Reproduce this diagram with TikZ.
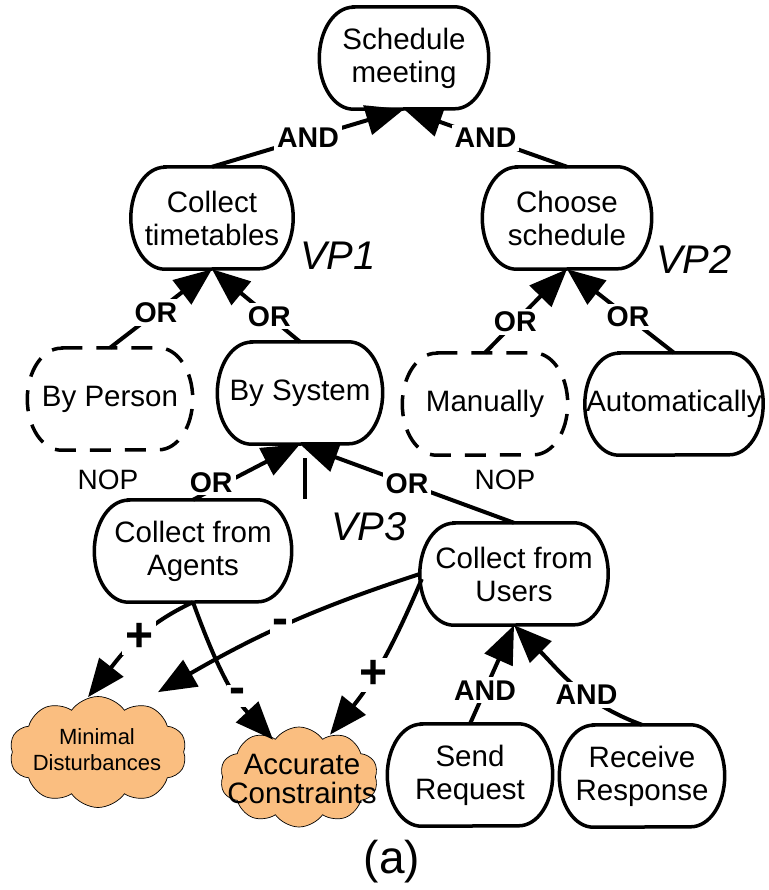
\documentclass[tikz,border=0pt]{standalone}
\usepackage{fontspec}
\setmainfont{Liberation Sans}
\usetikzlibrary{arrows.meta,shapes.symbols,calc}
\definecolor{softgoal}{RGB}{250,190,128}

% outline of a goal/task: flat top and bottom, elliptical ends
\newcommand{\goaloutline}[2][]{%
  \draw[goalline,#1] ($(#2.north west)+(34,0)$) -- ($(#2.north east)+(-34,0)$)
    arc[start angle=90, end angle=-90, x radius=34pt, y radius=51pt]
    -- ($(#2.south west)+(34,0)$)
    arc[start angle=270, end angle=90, x radius=34pt, y radius=51pt] -- cycle;}

\begin{document}
\begin{tikzpicture}[x=1pt,y=-1pt,
  goal/.style={rectangle, minimum width=165pt, minimum height=102pt,
    inner sep=0pt, align=center, font=\fontsize{29.5}{33}\selectfont},
  goalline/.style={line width=3.5pt},
  nopline/.style={dash pattern=on 21pt off 14pt},
  soft/.style={cloud, cloud puffs=10, cloud puff arc=110, cloud ignores aspect,
    draw, line width=0.7pt, fill=softgoal, inner sep=0pt},
  softtext/.style={align=center, inner sep=0pt},
  link/.style={line width=4pt, -{Triangle[length=38pt,width=30pt]}},
  dec/.style={font=\bfseries\fontsize{28.5}{28.5}\selectfont, fill=white, inner sep=3pt},
  contrib/.style={font=\bfseries\fontsize{48}{48}\selectfont, fill=white, inner sep=3pt},
  vp/.style={font=\itshape\fontsize{40}{40}\selectfont},
  note/.style={font=\fontsize{28}{28}\selectfont}
]
\useasboundingbox (0,0) rectangle (768,890);

% goals and tasks
\node[goal, minimum width=169pt] (sm) at (404,58) {Schedule\\meeting};
\node[goal, minimum width=162pt] (ct) at (212,218) {Collect\\timetables};
\node[goal, minimum width=169pt] (cs) at (567,218) {Choose\\schedule};
\node[goal] (bp) at (110,399) {By Person};
\node[goal] (bs) at (300,393) {By System};
\node[goal] (man) at (485,404) {Manually};
\node[goal, minimum width=178pt] (aut) at (674,404) {Automatically};
\node[goal, minimum width=197pt] (cfa) at (193,551) {Collect from\\Agents};
\node[goal, minimum width=188pt] (cfu) at (514,574) {Collect from\\Users};
\node[goal] (sr) at (470,775) {Send\\Request};
\node[goal] (rr) at (642,776) {Receive\\Response};

\goaloutline{sm}
\goaloutline{ct}
\goaloutline{cs}
\goaloutline[nopline]{bp}
\goaloutline{bs}
\goaloutline[nopline]{man}
\goaloutline{aut}
\goaloutline{cfa}
\goaloutline{cfu}
\goaloutline{sr}
\goaloutline{rr}

% softgoals
\node[soft, minimum width=177pt, minimum height=111pt] (md) at (98,752) {};
\node[softtext, font=\fontsize{22}{26}\selectfont] (mdtext) at (97,750) {Minimal\\Disturbances};
\node[soft, minimum width=158pt, minimum height=100pt] (ac) at (299,777) {};
\node[softtext, font=\fontsize{29.5}{29}\selectfont] (actext) at (302,779) {Accurate\\Constraints};

% variation points and notes
\node[vp] (vp1) at (338,256) {VP1};
\node[vp] (vp2) at (694,260) {VP2};
\node[vp] (vp3) at (369,527) {VP3};
\node[note] (nop1) at (108,480) {NOP};
\node[note] (nop2) at (505,480) {NOP};
\node[font=\fontsize{46}{46}\selectfont] (cap) at (392,862) {(a)};

% decompositions
\draw[link] (ct.north) -- node[dec]{AND} (sm.south);
\draw[link] (cs.north) -- node[dec]{AND} (sm.south);
\draw[link] (bp.north) -- node[dec, pos=0.45]{OR} (ct.south);
\draw[link] (bs.north) -- node[dec, pos=0.35]{OR} (ct.south);
\draw[link] (man.north) -- node[dec, pos=0.37]{OR} (cs.south);
\draw[link] (aut.north) -- node[dec, pos=0.43]{OR} (cs.south);
\draw[link] (cfa.north) -- node[dec, pos=0.17, yshift=8pt]{OR} (bs.south);
\draw[link] (cfu.north) -- node[dec, pos=0.5]{OR} (bs.south);
\draw[link] (sr.north) -- node[dec, pos=0.34]{AND} (cfu.south);
\draw[link] (rr.north) to[out=160,in=-45] node[dec, pos=0.38]{AND} (cfu.south);

% VP3 marker
\coordinate (vtop) at ($(bs.south)+(5,14)$);
\coordinate (vbot) at ($(bs.south)+(5,55)$);
\draw[line width=4pt] (vtop) -- (vbot);

% contributions
\draw[link] (cfa.south) to[out=205,in=52] node[contrib, pos=0.45]{+} ($(md.north)+(-10,1)$);
\draw[link] (cfa.south) to[out=-70,in=133] node[contrib, pos=0.66]{-} ($(ac.north)+(-26,13)$);
\draw[link] (cfu.west) to[out=198,in=30] node[contrib, pos=0.52]{-} ($(md.north)+(60,-4)$);
\draw[link] ($(cfu.west)+(2,5)$) to[out=247,in=51] node[contrib, pos=0.6]{+} ($(ac.north)+(31,8)$);
\end{tikzpicture}
\end{document}
